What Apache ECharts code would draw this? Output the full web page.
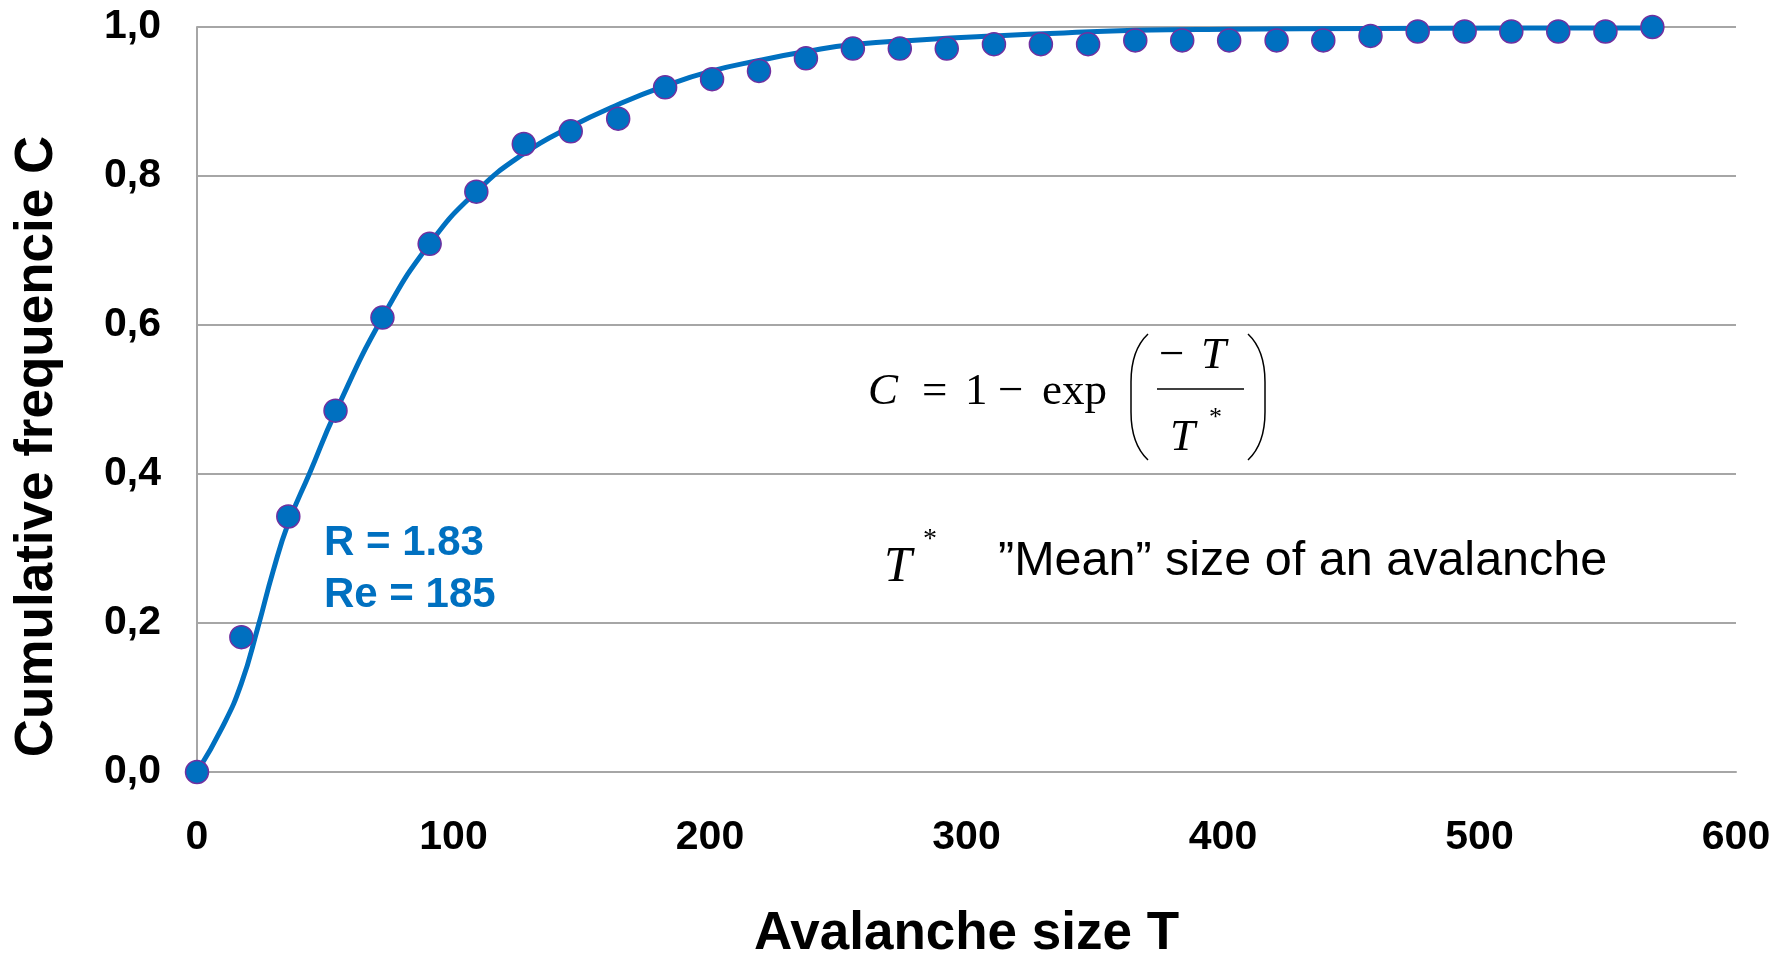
<!DOCTYPE html>
<html>
<head>
<meta charset="utf-8">
<title>Avalanche size</title>
<script src="https://cdn.jsdelivr.net/npm/echarts@6/dist/echarts.min.js"></script>
<style>
  html, body { margin: 0; padding: 0; background: #fff; }
  #main { width: 1791px; height: 953px; }
</style>
</head>
<body>
<div id="main"></div>
<script>
// measured points (avalanche size T, cumulative frequency C)
var sizeT = [0, 17.3, 35.6, 54.0, 72.3, 90.7, 108.9, 127.4, 145.7, 164.2, 182.5, 200.8, 219.1, 237.4, 255.7, 274.0,
  292.3, 310.7, 329.0, 347.4, 365.8, 384.1, 402.4, 420.9, 439.1, 457.5, 475.9, 494.2, 512.4, 530.7, 549.1, 567.4];
var cumC = [0, 0.181, 0.343, 0.485, 0.610, 0.709, 0.779, 0.843, 0.860, 0.877, 0.919, 0.930, 0.941, 0.958, 0.971, 0.971,
  0.971, 0.977, 0.977, 0.977, 0.982, 0.982, 0.982, 0.982, 0.982, 0.988, 0.994, 0.994, 0.994, 0.994, 0.994, 1.0];

// fitted curve
var fitT = [0, 10, 17.3, 23.8, 29.7, 35.6, 43.9, 54.0, 72.3, 90.7, 108.9, 127.4, 145.7, 164.2, 182.5, 200.8, 219.1,
  237.4, 255.7, 283.0, 310.7, 338.0, 365.8, 402.4, 457.5, 512.4, 567.4];
var fitC = [0, 0.061, 0.119, 0.195, 0.27, 0.334, 0.401, 0.483, 0.610, 0.709, 0.779, 0.830, 0.866, 0.896, 0.921, 0.941, 0.955,
  0.967, 0.9765, 0.983, 0.988, 0.992, 0.9955, 0.997, 0.998, 0.9985, 0.9987];

var xTicks = { min: 0, max: 600, step: 100 };
var yTicks = { min: 0, max: 1, step: 0.2 };

function pairs(xs, ys) {
  var out = [];
  for (var i = 0; i < xs.length; i++) {
    out.push([xs[i], ys[i]]);
  }
  return out;
}

var blue = "#0070C0";
var gridGray = "#a6a6a6";
var serif = "'Liberation Serif', 'DejaVu Serif', serif";
var sans = "'Liberation Sans', Arial, sans-serif";

function mathText(x, y, str, size, italic) {
  return {
    type: "text", x: x, y: y,
    style: {
      text: str, font: (italic ? "italic " : "") + size + "px " + serif, fill: "#000",
      verticalAlign: "middle"
    }
  };
}

// tall bracket: curved top, straight middle, curved bottom (dir 1 = left, -1 = right)
function bracket(xEnd, dir) {
  var xMid = xEnd - dir * 17;
  var st = { stroke: "#000", lineWidth: 1.5, fill: null };
  return [
    { type: "bezierCurve", shape: { x1: xEnd, y1: 334, cpx1: xMid, cpy1: 350, x2: xMid, y2: 382 }, style: st },
    { type: "line", shape: { x1: xMid, y1: 382, x2: xMid, y2: 412 }, style: st },
    { type: "bezierCurve", shape: { x1: xMid, y1: 412, cpx1: xMid, cpy1: 444, x2: xEnd, y2: 460 }, style: st }
  ];
}

var notes = [
  // R and Re values
  { type: "text", x: 324, y: 543, style: { text: "R = 1.83", font: "bold 42px " + sans, fill: blue, verticalAlign: "middle" } },
  { type: "text", x: 324, y: 595, style: { text: "Re = 185", font: "bold 42px " + sans, fill: blue, verticalAlign: "middle" } },
  // formula C = 1 - exp(-T / T*)
  mathText(868, 392, "C", 45, true),
  mathText(922, 392, "=", 45, false),
  mathText(965, 392, "1", 45, false),
  mathText(998, 392, "\u2212", 45, false),
  mathText(1042, 392, "exp", 45, false),
  mathText(1159, 356, "\u2212", 45, false),
  mathText(1201, 356, "T", 45, true),
  mathText(1170, 438, "T", 45, true),
  mathText(1209, 418, "*", 26, false),
  { type: "line", shape: { x1: 1157, y1: 389, x2: 1244, y2: 389 }, style: { stroke: "#000", lineWidth: 1.5 } },
  // T* legend
  mathText(884, 568, "T", 50, true),
  mathText(923, 540, "*", 28, false),
  {
    type: "text", x: 998, y: 562,
    style: { text: "\u201DMean\u201D size of an avalanche", font: "48.5px " + sans, fill: "#000", verticalAlign: "middle" }
  }
].concat(bracket(1148, 1), bracket(1248, -1));

var chart = echarts.init(document.getElementById("main"));
var option = {
  backgroundColor: "#fff",
  animation: false,
  grid: { left: 197, right: 55, top: 27, bottom: 181, containLabel: false, outerBoundsMode: "none" },
  xAxis: {
    type: "value",
    min: xTicks.min, max: xTicks.max, interval: xTicks.step,
    name: "Avalanche size T",
    nameLocation: "middle",
    nameGap: 136,
    nameTextStyle: { fontFamily: sans, fontSize: 53, fontWeight: "bold", color: "#000" },
    axisLine: { show: true, lineStyle: { color: gridGray, width: 2 } },
    axisTick: { show: false },
    splitLine: { show: false },
    axisLabel: { fontFamily: sans, fontSize: 41, fontWeight: "bold", color: "#000", margin: 45 }
  },
  yAxis: {
    type: "value",
    min: yTicks.min, max: yTicks.max, interval: yTicks.step,
    name: "Cumulative frequencie C",
    nameLocation: "middle",
    nameGap: 133,
    nameTextStyle: { fontFamily: sans, fontSize: 53, fontWeight: "bold", color: "#000", padding: [0, 94, 0, 0] },
    axisLine: { show: true, lineStyle: { color: gridGray, width: 2 } },
    axisTick: { show: false },
    splitLine: { show: true, lineStyle: { color: gridGray, width: 2 } },
    axisLabel: {
      fontFamily: sans, fontSize: 41, fontWeight: "bold", color: "#000", margin: 36,
      formatter: function (v) { return v.toFixed(1).replace(".", ","); }
    }
  },
  series: [
    {
      name: "fit",
      type: "line",
      data: pairs(fitT, fitC),
      smooth: 0.5,
      showSymbol: false,
      lineStyle: { color: blue, width: 5 },
      z: 2
    },
    {
      name: "data",
      type: "scatter",
      data: pairs(sizeT, cumC),
      symbol: "circle",
      symbolSize: 23,
      itemStyle: { color: blue, borderColor: "#7030A0", borderWidth: 1.5, opacity: 1 },
      z: 3
    }
  ],
  graphic: notes
};
chart.setOption(option);
</script>
</body>
</html>
